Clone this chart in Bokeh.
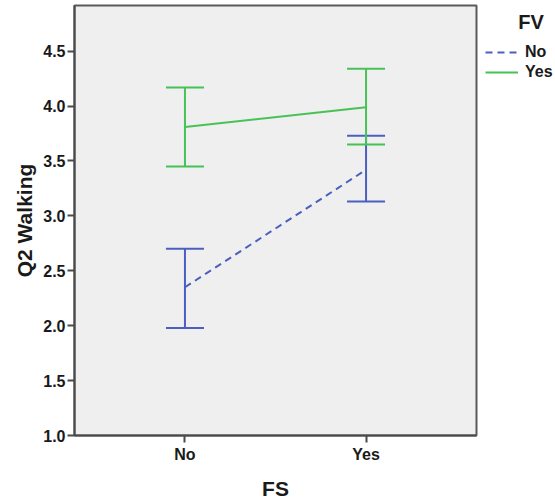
from bokeh.plotting import figure
from bokeh.models import (FactorRange, Range1d, FixedTicker, PrintfTickFormatter,
                          Whisker, TeeHead, ColumnDataSource, Legend, LegendItem)
from bokeh.embed import file_html
from bokeh.resources import INLINE

# ---- data ----
fs_levels = ["No", "Yes"]
fv_no_mean = [2.35, 3.42]
fv_no_lower = [1.98, 3.13]
fv_no_upper = [2.70, 3.73]
fv_yes_mean = [3.81, 3.99]
fv_yes_lower = [3.45, 3.65]
fv_yes_upper = [4.17, 4.34]
y_ticks = [1.0, 1.5, 2.0, 2.5, 3.0, 3.5, 4.0, 4.5]

BLUE = "#4a5fc0"
GREEN = "#47c257"
FONT = "Liberation Sans"
AXIS = "#4a4a4a"

p = figure(x_range=FactorRange(factors=fs_levels, range_padding=0.11),
           y_range=Range1d(1.0, 4.916),
           frame_width=402, frame_height=430,
           min_border_left=74, min_border_right=79, min_border_top=5, min_border_bottom=62,
           output_backend="svg", toolbar_location=None)

p.background_fill_color = "#efefef"
p.border_fill_color = "white"
p.outline_line_color = "#5a5a5a"
p.outline_line_width = 2
p.xgrid.visible = False
p.ygrid.visible = False

src_no = ColumnDataSource(dict(x=fs_levels, m=fv_no_mean, lo=fv_no_lower, hi=fv_no_upper))
src_yes = ColumnDataSource(dict(x=fs_levels, m=fv_yes_mean, lo=fv_yes_lower, hi=fv_yes_upper))

w_no = Whisker(source=src_no, base="x", lower="lo", upper="hi",
               line_color=BLUE, line_width=2,
               upper_head=TeeHead(size=38, line_color=BLUE, line_width=2),
               lower_head=TeeHead(size=38, line_color=BLUE, line_width=2))
p.add_layout(w_no)
r_no = p.line("x", "m", source=src_no, line_color=BLUE, line_width=2, line_dash="7 5")

w_yes = Whisker(source=src_yes, base="x", lower="lo", upper="hi",
                line_color=GREEN, line_width=2,
                upper_head=TeeHead(size=38, line_color=GREEN, line_width=2),
                lower_head=TeeHead(size=38, line_color=GREEN, line_width=2))
p.add_layout(w_yes)
r_yes = p.line("x", "m", source=src_yes, line_color=GREEN, line_width=2)

# axes
for ax in (p.xaxis[0], p.yaxis[0]):
    ax.axis_line_color = AXIS
    ax.axis_line_width = 2
    ax.major_tick_line_color = AXIS
    ax.major_tick_line_width = 2
    ax.major_tick_out = 7
    ax.major_tick_in = 0
    ax.minor_tick_line_color = None
    ax.major_label_text_font = FONT
    ax.major_label_text_font_size = "16px"
    ax.major_label_text_font_style = "bold"
    ax.major_label_text_color = "#1a1a1a"
    ax.axis_label_text_font = FONT
    ax.axis_label_text_font_size = "21px"
    ax.axis_label_text_font_style = "bold"
    ax.axis_label_text_color = "#1a1a1a"

p.yaxis.ticker = FixedTicker(ticks=y_ticks)
p.yaxis.formatter = PrintfTickFormatter(format="%.1f")
p.yaxis.major_label_standoff = 2
p.yaxis.axis_label = "Q2 Walking"
p.yaxis.axis_label_standoff = 4
p.xaxis.major_label_standoff = 3
p.xaxis.axis_label = "FS"
p.xaxis.axis_label_standoff = 11

legend = Legend(items=[LegendItem(label="No", renderers=[r_no]),
                       LegendItem(label="Yes", renderers=[r_yes])],
                title="\u00a0" * 6 + "FV", title_standoff=8,
                title_text_font=FONT, title_text_font_size="20px",
                title_text_font_style="bold", title_text_color="#1a1a1a",
                location=(9, 353), margin=0, padding=0, spacing=0,
                glyph_width=33, glyph_height=20, label_height=20, label_standoff=7,
                label_text_font=FONT, label_text_font_size="16px",
                label_text_font_style="bold", label_text_color="#1a1a1a",
                border_line_alpha=0, background_fill_alpha=0)
p.add_layout(legend, "right")

open("out.html", "w").write(file_html(p, INLINE))
